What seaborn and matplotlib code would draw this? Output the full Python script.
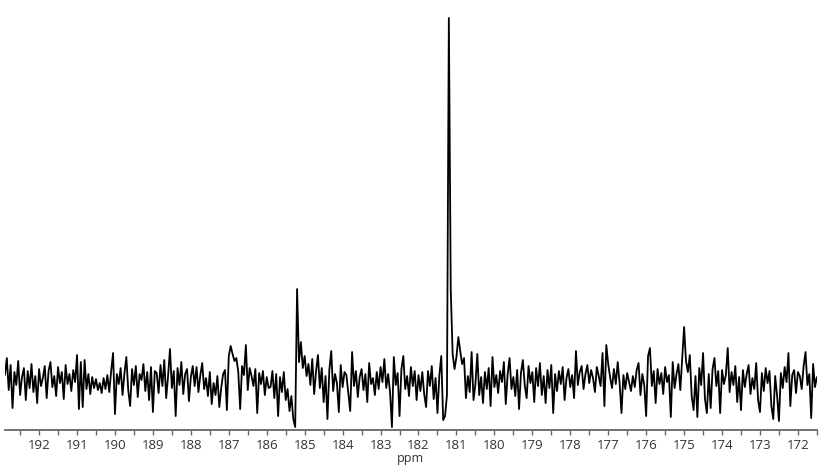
import numpy as np
import pandas as pd
import seaborn as sns
from matplotlib import pyplot as plt
from matplotlib.ticker import MultipleLocator

# eixo de deslocamento quimico (ppm), grelha uniforme do espectro
ppm_inicio = 192.90
ppm_fim = 171.50

# intensidades, blocos de 20 pontos (passo 0.05 ppm)
bloco_192_186 = [
    0.5, 2.2, -1.0, 1.5, -2.8, 0.8, -0.5, 1.9, -1.5, 0.3, 1.2, -2.0, 0.9, -0.8, 1.6, -1.2, 0.4, -2.3, 1.1, -0.6,
    0.2, 1.4, -1.8, 0.9, 1.8, -0.7, 0.4, -1.6, 1.3, -0.3, 0.8, -1.9, 1.5, -0.4, 0.6, -1.1, 1.0, -0.2, 2.5, -2.9,
    1.8, -2.7, 2.0, -0.9, 0.6, -1.4, 0.3, -0.8, 0.1, -1.0, -0.3, -1.3, 0.2, -0.9, 0.5, -1.2, 0.9, 2.7, -3.4, 0.6,
    -0.4, 1.2, -1.5, 0.7, 2.3, -1.0, -2.6, 1.1, -0.5, 1.4, -1.7, 0.6, 0.0, 1.6, -1.1, 0.8, -2.0, 1.3, -3.2, 0.9,
    0.7, -1.3, 1.5, -0.6, 2.0, -1.8, 0.4, 3.1, -0.8, 0.9, -3.6, 1.2, -0.5, 1.8, -1.4, 0.6, 1.1, -2.1, 0.3, 1.4,
    -0.6, 1.3, -1.2, 0.5, 1.7, -0.9, 0.2, -1.6, 0.8, -2.4, -0.3, -1.5, 0.4, -2.7, -0.8, 0.6, 1.0, -3.0, 2.4, 3.4,
    2.6, 1.9, 2.2, 0.8, -2.9, 1.4, 0.5, 3.5, -1.0, 1.2, 0.4, -0.6, 1.1, -3.3, 0.7, -0.4, 0.9, -1.5, 0.3, -0.8,
]
# pico em 185.2 ppm
bloco_186_185 = [
    -0.7, 0.9, -1.8, 0.6, -3.6, 0.3, -1.2, 0.8, -2.0, -0.9, -3.1, -1.6, -3.9, -4.7, 9.1, 1.8, 3.8, 1.2, 2.4, 0.4,
]
bloco_185_182 = [
    1.6, -0.5, 2.1, -1.4, 0.9, 2.5, -0.8, 1.2, -2.2, 0.4, -3.9, 1.0, 2.9, -1.1, 0.6, -0.3, -3.2, 1.5, -0.7, 0.8,
    0.5, -1.3, -3.1, 2.8, -0.6, 0.9, -1.7, 0.3, 1.1, -1.0, 0.6, -2.2, 1.7, -0.4, 0.2, -1.5, 0.8, -0.9, 1.3, -0.2,
    2.1, -0.8, 0.6, -1.2, -4.7, 2.3, -0.5, 0.7, -3.6, 1.1, 2.4, -0.9, 0.4, -1.6, 1.3, -0.6, 0.9, -2.0, 0.5, -1.1,
]
# pico principal em 181.2 ppm
bloco_182_181 = [
    0.8, -1.4, -2.7, 0.9, -0.6, 1.4, -1.9, 0.2, -3.3, 0.5, 2.4, -4.0, -3.6, -1.5, 36.2, 9.0, 2.6, 1.1, 2.3, 4.3,
]
bloco_181_171 = [
    2.9, 1.6, 2.2, -1.8, 0.4, -1.2, 2.8, -2.0, -0.4, 2.6, -1.5, 0.3, -2.3, 0.8, -0.9, 1.2, -2.6, 2.3, -0.7, 0.5,
    -1.3, 0.9, -0.2, 1.8, -2.4, 0.6, 2.2, -0.9, 0.3, -1.6, 1.0, -2.9, 0.7, 2.0, -0.5, -1.8, 1.4, -0.3, 0.8, -2.2,
    1.2, -0.6, 1.7, -1.5, 0.4, -2.3, 1.0, -0.8, 1.5, -3.3, 0.6, -1.1, 0.9, -0.4, 1.3, -2.0, 0.2, 1.1, -0.7, 0.5,
    -1.8, 2.9, -0.5, 0.8, 1.4, -0.9, 0.6, 1.5, -0.3, 1.0, 0.2, -1.2, 1.3, 0.4, -0.6, 2.7, -2.6, 3.5, 1.6, 0.3,
    -0.8, 1.1, -0.4, 1.8, -0.3, -3.3, 0.5, -0.9, 0.7, -0.2, -1.1, 0.4, -0.7, 1.0, 1.7, -1.5, 0.6, -0.5, -3.6, 2.4,
    3.2, -0.6, 0.9, -2.3, 1.1, -0.4, 0.7, -1.4, 1.3, -0.2, 0.5, -3.7, 1.8, -0.8, 0.6, 1.6, -1.0, 2.2, 5.3, 1.9,
    0.8, 2.5, -1.6, -3.0, 0.4, -3.7, 1.2, -0.5, 2.7, -1.9, -3.3, 0.6, -2.8, 1.1, 2.2, -0.6, 0.9, -3.3, 1.0, -0.4,
    0.5, 3.2, -1.2, 0.8, -0.5, 1.4, -2.2, 0.3, -3.0, 1.0, -0.7, 0.6, 1.5, -1.4, 0.2, -0.9, 1.7, -2.0, -3.2, 0.7,
    -1.1, 1.2, -0.3, 0.9, -2.6, -3.9, 0.4, -1.5, -4.1, 0.7, -0.8, 1.3, -0.2, 2.7, -2.6, 0.5, 1.0, -1.3, 0.8, 0.4,
    -0.9, 1.4, 2.8, -0.5, 0.6, -3.8, 1.6, -0.7, 0.3,
]

intensidade = bloco_192_186 + bloco_186_185 + bloco_185_182 + bloco_182_181 + bloco_181_171
ppm = np.linspace(ppm_inicio, ppm_fim, len(intensidade))
espectro = pd.DataFrame({'ppm': ppm, 'intensidade': intensidade})

sns.set_style('white')
plt.rcParams['font.family'] = ['Open Sans', 'DejaVu Sans']

fig = plt.figure(figsize=(8.21, 4.70), dpi=100)
ax = fig.add_axes([0.006, 0.085, 0.989, 0.915])
sns.lineplot(data=espectro, x='ppm', y='intensidade', color='black', linewidth=1.3, ax=ax, sort=False)

ax.set_xlim(ppm_inicio, ppm_fim)
ax.set_ylim(-5, 38)
ax.xaxis.set_major_locator(MultipleLocator(1))
ax.xaxis.set_minor_locator(MultipleLocator(0.5))
ax.set_yticks([])
ax.set_ylabel('')
ax.set_xlabel('ppm', fontsize=9, color='#333333', labelpad=0)
for lado in ['top', 'left', 'right']:
    ax.spines[lado].set_visible(False)
ax.spines['bottom'].set_color('#666666')
ax.spines['bottom'].set_linewidth(1.3)
ax.tick_params(axis='x', which='both', direction='out', length=3.5, width=1, color='#666666',
               labelsize=9.5, labelcolor='#333333', pad=3, bottom=True)

plt.savefig('out.png', dpi=100)
